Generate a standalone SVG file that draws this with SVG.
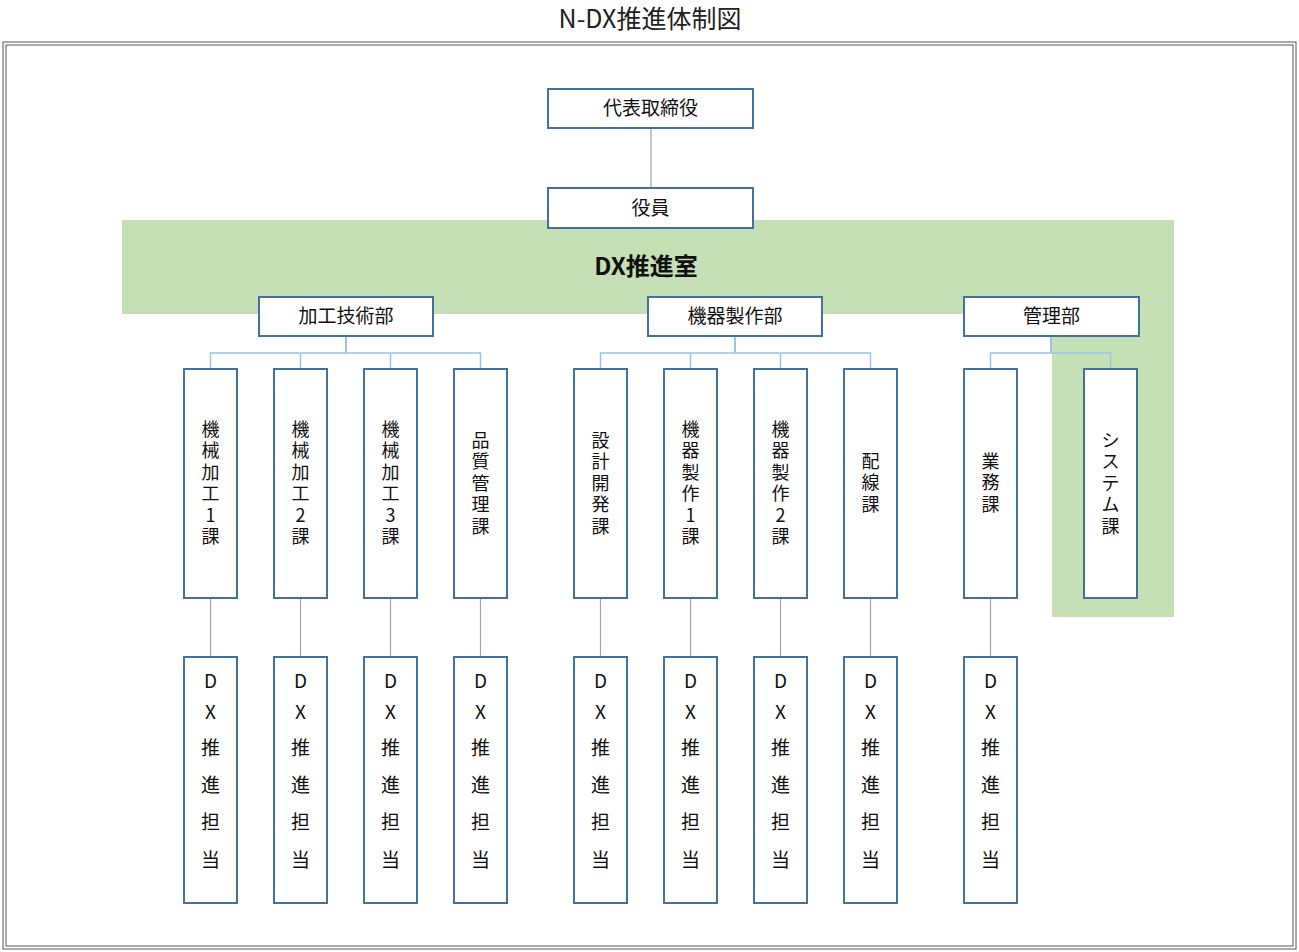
<svg xmlns="http://www.w3.org/2000/svg" width="1299" height="952" viewBox="0 0 1299 952">
<style>
.b{fill:#fff;stroke:#41719C;stroke-width:2}
text{font-family:"Noto Sans CJK JP","Noto Sans",sans-serif;fill:#111;font-size:19px;text-anchor:middle}
.vt{font-size:18px}
.bus{stroke:#9DC3E6;stroke-width:1.5;fill:none}
.v{stroke:#5B9BD5;stroke-width:1.2;fill:none}
.g{stroke:#A6A6A6;stroke-width:1.2;fill:none}
</style>
<rect width="1299" height="952" fill="#fff"/>
<text x="650" y="28" style="font-size:25px;fill:#222">N-DX推進体制図</text>
<rect x="3" y="42" width="1293" height="907" fill="none" stroke="#555" stroke-width="1"/>
<rect x="6" y="45" width="1287" height="901" fill="none" stroke="#555" stroke-width="1"/>
<g id="dx-room">
<polygon points="122,220 1174,220 1174,617 1052,617 1052,314 122,314" fill="#C5E0B4"/>
<text x="646" y="275" style="font-size:24px;font-weight:bold">DX推進室</text>
</g>
<g id="connectors">
<line class="g" x1="651" y1="128" x2="651" y2="188"/>
<path class="v" d="M346,336V353 M735,336V353 M1051,336V353"/>
<path class="bus" d="M210.5,369V353H480.5V369 M300.5,353V369 M390.5,353V369 M600.5,369V353H870.5V369 M690.5,353V369 M780.5,353V369 M990.5,369V353H1110.5V369"/>
<path class="g" d="M210.5,598V657 M300.5,598V657 M390.5,598V657 M480.5,598V657 M600.5,598V657 M690.5,598V657 M780.5,598V657 M870.5,598V657 M990.5,598V657"/>
</g>
<g id="ceo"><rect class="b" x="548" y="89" width="205" height="39"/><text x="650.5" y="115">代表取締役</text></g>
<g id="officer"><rect class="b" x="548" y="188" width="205" height="40"/><text x="650.5" y="215">役員</text></g>
<g id="dept1"><rect class="b" x="259" y="297" width="174" height="39"/><text x="346" y="323">加工技術部</text></g>
<g id="dept2"><rect class="b" x="648" y="297" width="174" height="39"/><text x="735" y="323">機器製作部</text></g>
<g id="dept3"><rect class="b" x="964" y="297" width="175" height="39"/><text x="1051.5" y="323">管理部</text></g>
<g id="s1"><rect class="b" x="184" y="369" width="53" height="229"/><text class="vt" x="210.5" y="436"><tspan x="210.5">機</tspan><tspan x="210.5" dy="21.4">械</tspan><tspan x="210.5" dy="21.4">加</tspan><tspan x="210.5" dy="21.4">工</tspan><tspan x="210.5" dy="21.4">1</tspan><tspan x="210.5" dy="21.4">課</tspan></text></g>
<g id="s2"><rect class="b" x="274" y="369" width="53" height="229"/><text class="vt" x="300.5" y="436"><tspan x="300.5">機</tspan><tspan x="300.5" dy="21.4">械</tspan><tspan x="300.5" dy="21.4">加</tspan><tspan x="300.5" dy="21.4">工</tspan><tspan x="300.5" dy="21.4">2</tspan><tspan x="300.5" dy="21.4">課</tspan></text></g>
<g id="s3"><rect class="b" x="364" y="369" width="53" height="229"/><text class="vt" x="390.5" y="436"><tspan x="390.5">機</tspan><tspan x="390.5" dy="21.4">械</tspan><tspan x="390.5" dy="21.4">加</tspan><tspan x="390.5" dy="21.4">工</tspan><tspan x="390.5" dy="21.4">3</tspan><tspan x="390.5" dy="21.4">課</tspan></text></g>
<g id="s4"><rect class="b" x="454" y="369" width="53" height="229"/><text class="vt" x="480.5" y="447"><tspan x="480.5">品</tspan><tspan x="480.5" dy="21.4">質</tspan><tspan x="480.5" dy="21.4">管</tspan><tspan x="480.5" dy="21.4">理</tspan><tspan x="480.5" dy="21.4">課</tspan></text></g>
<g id="s5"><rect class="b" x="574" y="369" width="53" height="229"/><text class="vt" x="600.5" y="447"><tspan x="600.5">設</tspan><tspan x="600.5" dy="21.4">計</tspan><tspan x="600.5" dy="21.4">開</tspan><tspan x="600.5" dy="21.4">発</tspan><tspan x="600.5" dy="21.4">課</tspan></text></g>
<g id="s6"><rect class="b" x="664" y="369" width="53" height="229"/><text class="vt" x="690.5" y="436"><tspan x="690.5">機</tspan><tspan x="690.5" dy="21.4">器</tspan><tspan x="690.5" dy="21.4">製</tspan><tspan x="690.5" dy="21.4">作</tspan><tspan x="690.5" dy="21.4">1</tspan><tspan x="690.5" dy="21.4">課</tspan></text></g>
<g id="s7"><rect class="b" x="754" y="369" width="53" height="229"/><text class="vt" x="780.5" y="436"><tspan x="780.5">機</tspan><tspan x="780.5" dy="21.4">器</tspan><tspan x="780.5" dy="21.4">製</tspan><tspan x="780.5" dy="21.4">作</tspan><tspan x="780.5" dy="21.4">2</tspan><tspan x="780.5" dy="21.4">課</tspan></text></g>
<g id="s8"><rect class="b" x="844" y="369" width="53" height="229"/><text class="vt" x="870.5" y="468"><tspan x="870.5">配</tspan><tspan x="870.5" dy="21.4">線</tspan><tspan x="870.5" dy="21.4">課</tspan></text></g>
<g id="s9"><rect class="b" x="964" y="369" width="53" height="229"/><text class="vt" x="990.5" y="468"><tspan x="990.5">業</tspan><tspan x="990.5" dy="21.4">務</tspan><tspan x="990.5" dy="21.4">課</tspan></text></g>
<g id="s10"><rect class="b" x="1084" y="369" width="53" height="229"/><text class="vt" x="1110.5" y="447"><tspan x="1110.5">シ</tspan><tspan x="1110.5" dy="21.4">ス</tspan><tspan x="1110.5" dy="21.4">テ</tspan><tspan x="1110.5" dy="21.4">ム</tspan><tspan x="1110.5" dy="21.4">課</tspan></text></g>
<defs>
<g id="dxt"><text x="0" y="688">D</text><text x="0" y="719">X</text><text x="0" y="755">推</text><text x="0" y="792">進</text><text x="0" y="829">担</text><text x="0" y="867">当</text></g>
</defs>
<g id="d1"><rect class="b" x="184" y="657" width="53" height="246"/><use href="#dxt" x="210.5"/></g>
<g id="d2"><rect class="b" x="274" y="657" width="53" height="246"/><use href="#dxt" x="300.5"/></g>
<g id="d3"><rect class="b" x="364" y="657" width="53" height="246"/><use href="#dxt" x="390.5"/></g>
<g id="d4"><rect class="b" x="454" y="657" width="53" height="246"/><use href="#dxt" x="480.5"/></g>
<g id="d5"><rect class="b" x="574" y="657" width="53" height="246"/><use href="#dxt" x="600.5"/></g>
<g id="d6"><rect class="b" x="664" y="657" width="53" height="246"/><use href="#dxt" x="690.5"/></g>
<g id="d7"><rect class="b" x="754" y="657" width="53" height="246"/><use href="#dxt" x="780.5"/></g>
<g id="d8"><rect class="b" x="844" y="657" width="53" height="246"/><use href="#dxt" x="870.5"/></g>
<g id="d9"><rect class="b" x="964" y="657" width="53" height="246"/><use href="#dxt" x="990.5"/></g>
</svg>
